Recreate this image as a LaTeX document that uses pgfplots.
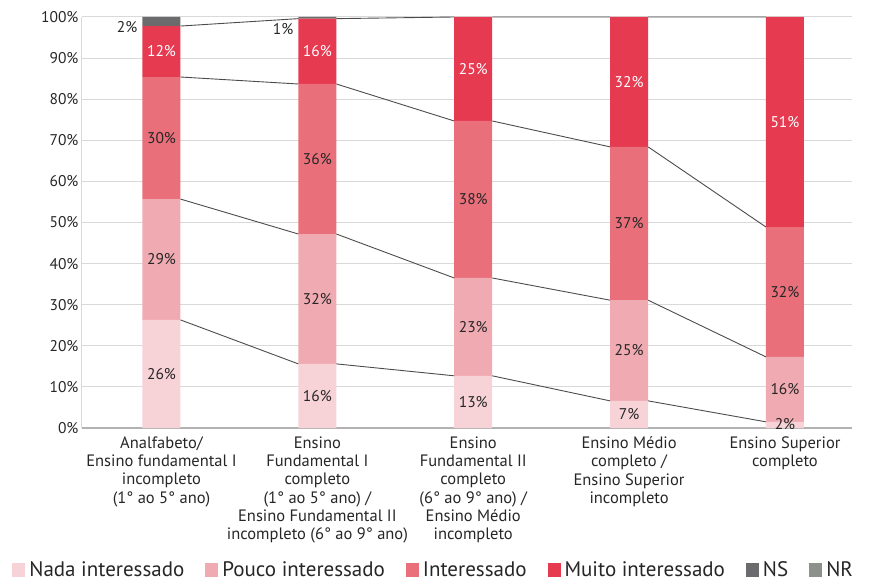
\documentclass[border=0pt]{standalone}
\usepackage{pgfplots}
\pgfplotsset{compat=1.18}
\usepackage{fontspec}
\setmainfont{PT Sans}
\definecolor{cNada}{HTML}{F7D3D8}
\definecolor{cPouco}{HTML}{F0AAB2}
\definecolor{cInt}{HTML}{E96F7A}
\definecolor{cMuito}{HTML}{E63A51}
\definecolor{cNS}{HTML}{6B6B6D}
\definecolor{cNR}{HTML}{8C928B}
\definecolor{txt}{HTML}{262626}
\begin{document}
\begin{tikzpicture}
\pgfplotsset{
  base/.style={
    scale only axis, width=770pt, height=411pt,
    xmin=-0.51, xmax=4.43, ymin=0, ymax=100,
  }
}
\begin{axis}[base,
  ybar stacked, bar width=38pt,
  axis lines=left, axis line style={-},
  x axis line style={draw=black!30, line width=1.2pt},
  y axis line style={draw=black!15, line width=1pt},
  ytick={0,10,...,100}, ymajorgrids, grid style={draw=black!15, line width=1pt},
  yticklabel={\pgfmathprintnumber{\tick}\%},
  /pgf/number format/assume math mode=true,
  yticklabel style={font=\fontsize{15.5}{16}\selectfont, text=txt, xshift=0pt},
  xtick={0,1,2,3,4},
  xticklabels={
    {Analfabeto/\\Ensino fundamental I\\incompleto\\(1° ao 5° ano)},
    {Ensino\\Fundamental I\\completo\\(1° ao 5° ano) /\\Ensino Fundamental II\\incompleto (6° ao 9° ano)},
    {Ensino\\Fundamental II\\completo\\(6° ao 9° ano) /\\Ensino Médio\\incompleto},
    {Ensino Médio\\completo /\\Ensino Superior\\incompleto},
    {Ensino Superior\\completo}},
  xticklabel style={font=\fontsize{16.5}{18.3}\selectfont, align=center, text=txt, yshift=-5pt},
  major tick length=0pt,
  legend columns=6,
  legend style={at={(0.458,-0.345)}, anchor=center, draw=none, fill=none,
    font=\fontsize{21}{22}\selectfont, text=txt,
    nodes={inner xsep=4pt},
    /tikz/every even column/.append style={column sep=17pt},
    /tikz/every odd column/.append style={column sep=0pt}},
  legend image code/.code={\fill[#1] (0pt,-7pt) rectangle (13pt,7pt);},
]
\addplot[fill=cNada, draw=none] coordinates {(0,26.3) (1,15.6) (2,12.7) (3,6.6) (4,1.5)};
\addplot[fill=cPouco, draw=none] coordinates {(0,29.4) (1,31.6) (2,23.8) (3,24.5) (4,15.8)};
\addplot[fill=cInt, draw=none] coordinates {(0,29.7) (1,36.5) (2,38.2) (3,37.3) (4,31.6)};
\addplot[fill=cMuito, draw=none] coordinates {(0,12.4) (1,15.9) (2,25.3) (3,31.6) (4,51.1)};
\addplot[fill=cNS, draw=none] coordinates {(0,2.2) (1,0.4) (2,0) (3,0) (4,0)};
\addplot[fill=cNR, draw=none] coordinates {(0,0) (1,0) (2,0) (3,0) (4,0)};
\legend{Nada interessado, Pouco interessado, Interessado, Muito interessado, NS, NR}
\end{axis}
\begin{axis}[base, axis lines=none, clip=false, unbounded coords=jump]
\addplot[draw=black!70, line width=0.9pt, mark=none] coordinates {
 (0.122,26.3) (0.878,15.6) (1,nan) (1.122,15.6) (1.878,12.7) (2,nan)
 (2.122,12.7) (2.878,6.6) (3,nan) (3.122,6.6) (3.878,1.5)};
\addplot[draw=black!70, line width=0.9pt, mark=none] coordinates {
 (0.122,55.7) (0.878,47.2) (1,nan) (1.122,47.2) (1.878,36.5) (2,nan)
 (2.122,36.5) (2.878,31.1) (3,nan) (3.122,31.1) (3.878,17.3)};
\addplot[draw=black!70, line width=0.9pt, mark=none] coordinates {
 (0.122,85.4) (0.878,83.7) (1,nan) (1.122,83.7) (1.878,74.7) (2,nan)
 (2.122,74.7) (2.878,68.4) (3,nan) (3.122,68.4) (3.878,48.9)};
\addplot[draw=black!70, line width=0.9pt, mark=none] coordinates {
 (0.122,97.8) (0.878,99.6) (1,nan) (1.122,99.6) (1.878,100) (2,nan)
 (2.122,100) (2.878,100) (3,nan) (3.122,100) (3.878,100)};
% dark labels
\addplot[draw=none, mark=none, nodes near coords, point meta=explicit symbolic,
  every node near coord/.append style={anchor=center, font=\fontsize{15.5}{16}\selectfont, text=txt, inner sep=0pt}]
 coordinates {
 (0,13.2)[26\%] (0,41.0)[29\%] (0,70.6)[30\%]
 (1,7.8)[16\%] (1,31.4)[32\%] (1,65.5)[36\%]
 (2,6.4)[13\%] (2,24.6)[23\%] (2,55.6)[38\%]
 (3,3.3)[7\%] (3,18.9)[25\%] (3,49.8)[37\%]
 (4,1.0)[2\%] (4,9.4)[16\%] (4,33.1)[32\%]
 (-0.22,97.6)[2\%] (0.78,97.1)[1\%]};
% white labels
\addplot[draw=none, mark=none, nodes near coords, point meta=explicit symbolic,
  every node near coord/.append style={anchor=center, font=\fontsize{15.5}{16}\selectfont, text=white, inner sep=0pt}]
 coordinates {(0,91.6)[12\%] (1,91.7)[16\%] (2,87.4)[25\%] (3,84.2)[32\%] (4,74.5)[51\%]};
\end{axis}
\path[use as bounding box] (-82pt,-151pt) rectangle (792pt,428pt);
\end{tikzpicture}
\end{document}
